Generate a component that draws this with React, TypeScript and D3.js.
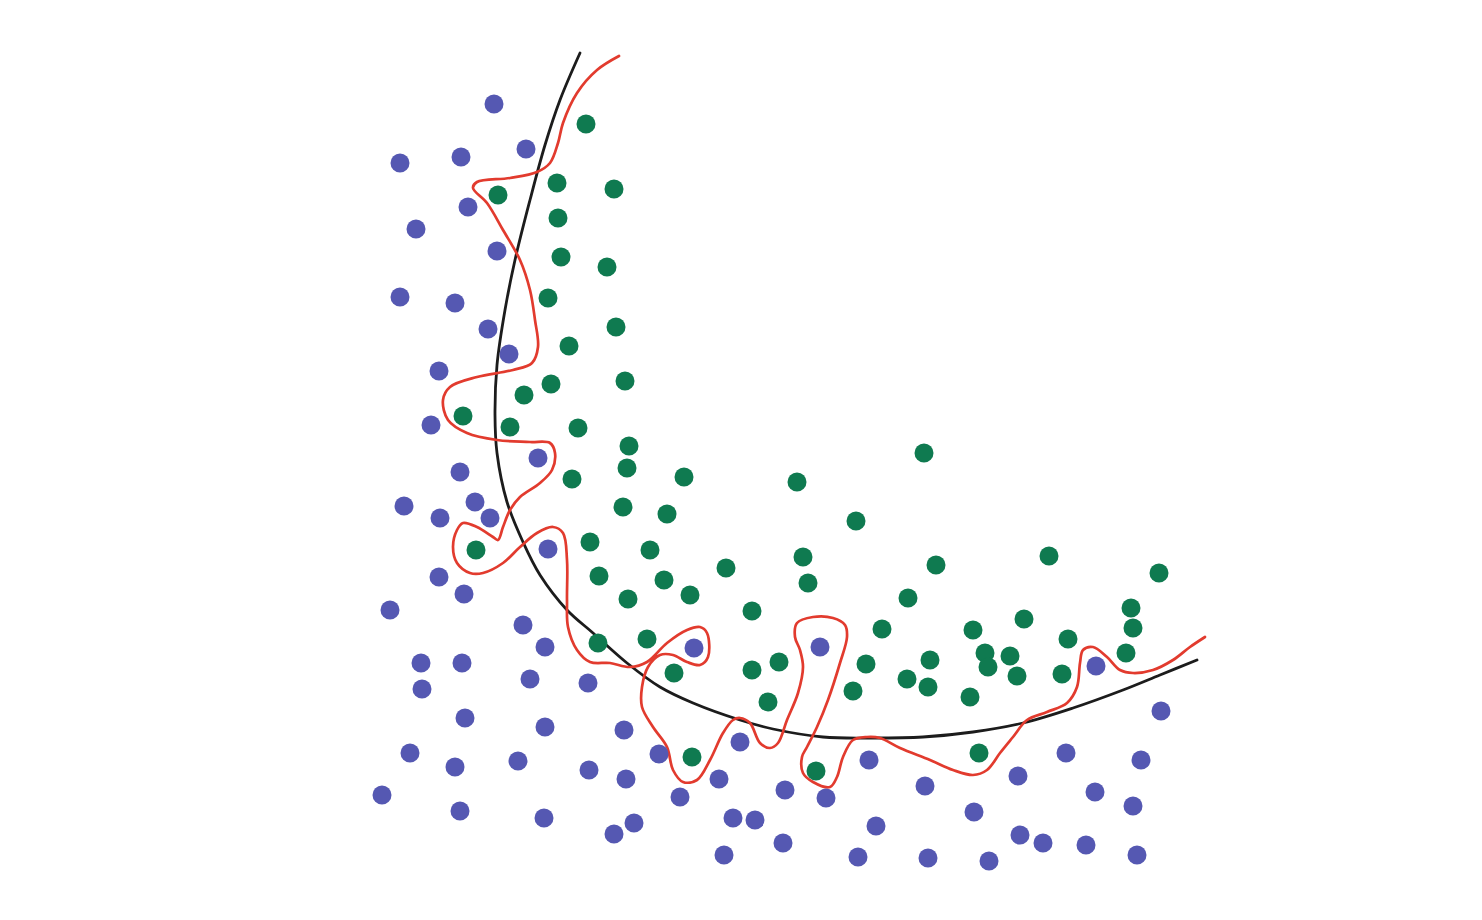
import React from "react";
import * as d3 from "d3";

// Class A (blue) points: [x, y]
const bluePoints: [number, number][] = [
  [11.4, 76.6], [2.0, 70.7], [8.1, 71.3], [14.6, 72.1], [8.8, 66.3], [3.6, 64.1],
  [11.7, 61.9], [2.0, 57.3], [7.5, 56.7], [10.8, 54.1], [12.9, 51.6], [5.9, 49.9],
  [5.1, 44.5], [15.8, 41.2], [8.0, 39.8], [2.4, 36.4], [9.5, 36.8], [6.0, 35.2],
  [11.0, 35.2], [16.8, 32.1], [5.9, 29.3], [8.4, 27.6], [1.0, 26.0], [14.3, 24.5],
  [16.5, 22.3], [4.1, 20.7], [8.2, 20.7], [4.2, 18.1], [15.0, 19.1], [20.8, 18.7],
  [8.5, 15.2], [16.5, 14.3], [24.4, 14.0], [3.0, 11.7], [7.5, 10.3], [13.8, 10.9],
  [20.9, 10.0], [24.6, 9.1], [27.9, 11.6], [0.2, 7.5], [8.0, 5.9], [16.4, 5.2],
  [23.4, 3.6], [25.4, 4.7], [30.0, 7.3], [33.9, 9.1], [36.0, 12.8], [31.4, 22.2],
  [35.3, 5.2], [37.5, 5.0], [40.5, 8.0], [40.3, 2.7], [34.4, 1.5], [44.0, 22.3],
  [44.6, 7.2], [48.9, 11.0], [49.6, 4.4], [47.8, 1.3], [54.5, 8.4], [54.8, 1.2],
  [59.4, 5.8], [60.9, 0.9], [63.8, 9.4], [64.0, 3.5], [66.3, 2.7], [68.6, 11.7],
  [70.6, 2.5], [71.5, 7.8], [71.6, 20.4], [76.1, 11.0], [78.1, 15.9], [75.3, 6.4],
  [75.7, 1.5],
];

// Class B (green) points: [x, y]
const greenPoints: [number, number][] = [
  [20.6, 74.6], [17.7, 68.7], [23.4, 68.1], [11.8, 67.5], [17.8, 65.2], [18.1, 61.3],
  [22.7, 60.3], [16.8, 57.2], [23.6, 54.3], [18.9, 52.4], [17.1, 48.6], [14.4, 47.5],
  [24.5, 48.9], [8.3, 45.4], [13.0, 44.3], [19.8, 44.2], [24.9, 42.4], [24.7, 40.2],
  [19.2, 39.1], [30.4, 39.3], [24.3, 36.3], [28.7, 35.6], [9.6, 32.0], [21.0, 32.8],
  [27.0, 32.0], [21.9, 29.4], [28.4, 29.0], [24.8, 27.1], [31.0, 27.5], [34.6, 30.2],
  [41.7, 38.8], [47.6, 34.9], [54.4, 41.7], [42.3, 31.3], [42.8, 28.7], [55.6, 30.5],
  [66.9, 31.4], [77.9, 29.7], [37.2, 25.9], [52.8, 27.2], [50.2, 24.1], [59.3, 24.0],
  [64.4, 25.1], [68.8, 23.1], [75.1, 26.2], [75.3, 24.2], [74.6, 21.7], [21.8, 22.7],
  [26.7, 23.1], [29.4, 19.7], [37.2, 20.0], [39.9, 20.8], [38.8, 16.8], [48.6, 20.6],
  [47.3, 17.9], [52.7, 19.1], [55.0, 21.0], [54.8, 18.3], [60.5, 21.7], [60.8, 20.3],
  [63.0, 21.4], [63.7, 19.4], [59.0, 17.3], [68.2, 19.6], [31.2, 11.3], [43.6, 9.9],
  [59.9, 11.7],
];

// Smooth (regularized) decision boundary
const smoothBoundary: [number, number][] = [
  [20.0, 81.7], [18.0, 77.0], [16.5, 72.5], [15.0, 67.0], [13.5, 61.0], [12.5, 56.0],
  [11.7, 50.5], [11.5, 45.5], [11.7, 41.7], [12.7, 36.8], [14.3, 32.8], [16.0, 29.5],
  [18.7, 26.0], [21.3, 23.7], [24.7, 20.7], [28.0, 18.3], [31.3, 16.7], [36.0, 15.0],
  [39.3, 14.1], [44.3, 13.3], [49.3, 13.2], [54.3, 13.3], [59.3, 13.8], [64.3, 14.7],
  [69.3, 16.2], [74.3, 18.0], [78.0, 19.5], [81.7, 21.0],
];

// Overfitted decision boundary
const overfitBoundary: [number, number][] = [
  [23.9, 81.4], [21.7, 80.0], [19.7, 77.7], [18.3, 74.7], [17.8, 72.7], [17.0, 70.7],
  [15.7, 69.8], [13.0, 69.2], [9.7, 68.8], [9.3, 68.2], [10.7, 66.7], [12.3, 64.0],
  [14.0, 61.0], [15.0, 58.0], [15.5, 55.0], [15.8, 52.3], [15.2, 50.7], [13.3, 50.0],
  [9.7, 49.3], [7.0, 48.3], [6.3, 47.0], [6.8, 45.0], [8.7, 43.7], [11.7, 43.0],
  [15.0, 42.8], [17.0, 42.7], [17.5, 41.7], [17.2, 40.0], [16.0, 38.7], [14.0, 37.3],
  [13.0, 36.0], [12.3, 34.3], [11.8, 33.0], [11.3, 33.3], [9.7, 34.3], [8.3, 34.7],
  [7.7, 34.0], [7.3, 32.3], [7.7, 30.7], [9.0, 29.7], [10.3, 29.7], [12.3, 30.7],
  [14.0, 32.3], [15.7, 33.7], [17.3, 34.3], [18.3, 33.7], [18.7, 31.0], [18.7, 27.0],
  [18.8, 24.3], [19.7, 22.0], [21.0, 20.8], [23.0, 20.7], [25.0, 20.3], [26.7, 20.8],
  [28.7, 22.7], [30.7, 24.0], [32.0, 24.3], [32.7, 23.7], [32.8, 21.3], [32.0, 20.5],
  [30.7, 20.8], [29.3, 21.5], [28.0, 21.5], [26.8, 20.3], [26.2, 18.3], [26.2, 16.3],
  [27.3, 14.3], [28.7, 12.3], [29.3, 10.0], [30.3, 8.8], [31.7, 9.0], [33.0, 11.0],
  [34.3, 13.7], [35.3, 15.0], [36.0, 15.2], [37.0, 14.7], [38.0, 12.7], [39.0, 12.2],
  [39.8, 12.7], [40.7, 15.0], [41.8, 17.7], [42.3, 20.3], [42.0, 22.0], [41.5, 23.3],
  [41.7, 24.7], [43.3, 25.3], [45.3, 25.2], [46.5, 24.5], [46.7, 23.3], [46.0, 20.7],
  [44.8, 17.0], [43.7, 14.3], [42.7, 12.3], [42.2, 11.3], [42.3, 9.7], [43.3, 8.8],
  [45.0, 8.3], [45.7, 9.3], [46.3, 11.3], [47.3, 13.0], [48.7, 13.3], [50.0, 13.2],
  [52.0, 12.2], [55.0, 11.0], [57.3, 10.0], [59.3, 9.5], [60.7, 10.0], [62.0, 11.7],
  [63.3, 13.3], [64.7, 15.0], [66.7, 15.8], [68.7, 16.7], [69.7, 18.3], [70.0, 20.7],
  [70.3, 22.0], [71.3, 22.3], [72.7, 21.3], [74.0, 20.0], [75.3, 19.7], [77.3, 20.0],
  [79.3, 21.0], [81.0, 22.3], [82.5, 23.3],
];

const W = 1482;
const H = 920;

export default function App() {
  const x = d3.scaleLinear().domain([0, 82]).range([380, 1200]);
  const y = d3.scaleLinear().domain([0, 82]).range([870, 50]);

  const line = d3
    .line<[number, number]>()
    .x((d) => x(d[0]))
    .y((d) => y(d[1]))
    .curve(d3.curveCatmullRom.alpha(0.5));

  return (
    <svg
      width={W}
      height={H}
      style={{ position: "absolute", left: 0, top: 0, background: "#fff" }}
    >
      <rect x={0} y={0} width={W} height={H} fill="#fff" />
      <path d={line(smoothBoundary) || ""} fill="none" stroke="#1c1c1c" strokeWidth={2.8} strokeLinecap="round" />
      <path d={line(overfitBoundary) || ""} fill="none" stroke="#e23b2e" strokeWidth={2.7} strokeLinejoin="round" strokeLinecap="round" />
      {bluePoints.map((d, i) => (
        <circle key={"b" + i} cx={x(d[0])} cy={y(d[1])} r={9.5} fill="#5558b2" />
      ))}
      {greenPoints.map((d, i) => (
        <circle key={"g" + i} cx={x(d[0])} cy={y(d[1])} r={9.5} fill="#0f7a50" />
      ))}
    </svg>
  );
}
